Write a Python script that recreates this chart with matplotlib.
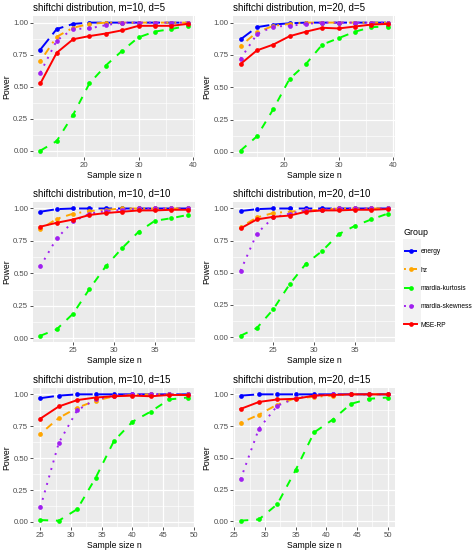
import matplotlib

matplotlib.use("Agg")
import matplotlib.pyplot as plt
import numpy as np
from matplotlib.lines import Line2D
from matplotlib.patches import Rectangle
from matplotlib.ticker import MultipleLocator

plt.rcParams["font.family"] = ["Liberation Sans", "DejaVu Sans"]

groups = ["energy", "hz", "mardia-kurtosis", "mardia-skewness", "MSE-RP"]
colors = {
    "energy": "#0000FF",
    "hz": "#FFA500",
    "mardia-kurtosis": "#00FF00",
    "mardia-skewness": "#A020F0",
    "MSE-RP": "#FF0000",
}
styles = {
    "energy": (0, (7, 3)),
    "hz": (0, (1, 3, 4, 3)),
    "mardia-kurtosis": (0, (4, 4)),
    "mardia-skewness": (0, (1, 3)),
    "MSE-RP": "-",
}

n_d5 = [12, 15, 18, 21, 24, 27, 30, 33, 36, 39]
n_d10 = [21, 23, 25, 27, 29, 31, 33, 35, 37, 39]
n_d15_m10 = [25, 28, 31, 34, 37, 40, 43, 46, 49]
n_d15_m20 = [26, 29, 32, 35, 38, 41, 44, 47, 50]

# m=10, d=5
p1 = {
    "energy": [0.79, 0.95, 0.99, 1.0, 1.0, 1.0, 1.0, 1.0, 1.0, 1.0],
    "hz": [0.70, 0.89, 0.96, 0.99, 1.0, 1.0, 1.0, 1.0, 1.0, 1.0],
    "mardia-kurtosis": [0.0, 0.075, 0.28, 0.525, 0.665, 0.78, 0.885, 0.93, 0.95, 0.975],
    "mardia-skewness": [0.61, 0.86, 0.95, 0.955, 0.98, 1.0, 1.0, 1.0, 1.0, 1.0],
    "MSE-RP": [0.525, 0.765, 0.87, 0.895, 0.915, 0.94, 0.975, 0.975, 0.975, 0.99],
}
# m=20, d=5
p2 = {
    "energy": [0.87, 0.965, 0.985, 0.995, 1.0, 1.0, 1.0, 1.0, 1.0, 1.0],
    "hz": [0.82, 0.925, 0.975, 0.99, 1.0, 1.0, 1.0, 1.0, 1.0, 1.0],
    "mardia-kurtosis": [0.01, 0.12, 0.33, 0.565, 0.68, 0.83, 0.88, 0.93, 0.965, 0.97],
    "mardia-skewness": [0.72, 0.91, 0.97, 0.975, 0.99, 1.0, 1.0, 1.0, 1.0, 1.0],
    "MSE-RP": [0.68, 0.785, 0.83, 0.895, 0.93, 0.96, 0.955, 0.97, 0.985, 0.99],
}
# m=10, d=10
p3 = {
    "energy": [0.975, 0.995, 1.0, 1.0, 1.0, 1.0, 1.0, 1.0, 1.0, 1.0],
    "hz": [0.84, 0.92, 0.96, 0.98, 0.99, 1.0, 1.0, 1.0, 1.0, 1.0],
    "mardia-kurtosis": [0.02, 0.07, 0.19, 0.38, 0.555, 0.695, 0.82, 0.905, 0.925, 0.95],
    "mardia-skewness": [0.555, 0.77, 0.90, 0.96, 0.98, 0.99, 1.0, 1.0, 1.0, 1.0],
    "MSE-RP": [0.86, 0.89, 0.915, 0.95, 0.965, 0.975, 0.985, 0.985, 0.99, 0.99],
}
# m=20, d=10
p4 = {
    "energy": [0.98, 0.995, 1.0, 1.0, 1.0, 1.0, 1.0, 1.0, 1.0, 1.0],
    "hz": [0.855, 0.93, 0.965, 0.975, 0.985, 0.99, 1.0, 1.0, 1.0, 1.0],
    "mardia-kurtosis": [0.01, 0.07, 0.215, 0.41, 0.57, 0.67, 0.80, 0.865, 0.915, 0.96],
    "mardia-skewness": [0.515, 0.805, 0.93, 0.96, 0.985, 0.99, 1.0, 1.0, 1.0, 1.0],
    "MSE-RP": [0.845, 0.915, 0.935, 0.945, 0.975, 0.985, 0.985, 0.99, 0.99, 0.995],
}
# m=10, d=15
p5 = {
    "energy": [0.97, 0.99, 1.0, 1.0, 1.0, 1.0, 1.0, 1.0, 1.0],
    "hz": [0.69, 0.815, 0.895, 0.95, 0.985, 0.995, 1.0, 1.0, 1.0],
    "mardia-kurtosis": [0.015, 0.01, 0.10, 0.345, 0.635, 0.785, 0.865, 0.96, 0.975],
    "mardia-skewness": [0.115, 0.62, 0.875, 0.96, 0.99, 1.0, 1.0, 1.0, 1.0],
    "MSE-RP": [0.81, 0.905, 0.955, 0.975, 0.985, 0.99, 0.985, 0.995, 0.995],
}
# m=20, d=15
p6 = {
    "energy": [0.99, 1.0, 1.0, 1.0, 1.0, 1.0, 1.0, 1.0, 1.0],
    "hz": [0.775, 0.84, 0.92, 0.97, 0.98, 0.99, 1.0, 1.0, 1.0],
    "mardia-kurtosis": [0.005, 0.015, 0.135, 0.405, 0.70, 0.80, 0.925, 0.965, 0.975],
    "mardia-skewness": [0.33, 0.73, 0.91, 0.97, 0.99, 1.0, 1.0, 1.0, 1.0],
    "MSE-RP": [0.885, 0.94, 0.96, 0.965, 0.99, 0.995, 1.0, 1.0, 1.0],
}

panels = [
    ("shiftchi distribution, m=10, d=5", n_d5, p1, 10, 5),
    ("shiftchi distribution, m=20, d=5", n_d5, p2, 10, 5),
    ("shiftchi distribution, m=10, d=10", n_d10, p3, 5, 2.5),
    ("shiftchi distribution, m=20, d=10", n_d10, p4, 5, 2.5),
    ("shiftchi distribution, m=10, d=15", n_d15_m10, p5, 5, 2.5),
    ("shiftchi distribution, m=20, d=15", n_d15_m20, p6, 5, 2.5),
]

# axes boxes in figure fractions (left, bottom, width, height)
col_left = [0.070, 0.494]
row_box = [(0.7145, 0.256), (0.378, 0.2545), (0.0418, 0.2527)]

fig = plt.figure(figsize=(4.72, 5.5), dpi=100)
grey_text = "#4D4D4D"

for i, (title, n, vals, major, minor) in enumerate(panels):
    r, c = divmod(i, 2)
    bottom, height = row_box[r]
    ax = fig.add_axes([col_left[c], bottom, 0.343, height])
    ax.set_facecolor("#EBEBEB")
    for g in groups:
        ax.plot(
            n, vals[g], color=colors[g], linestyle=styles[g], linewidth=1.4,
            marker="o", markersize=3.4, markeredgewidth=0,
        )
    allv = np.concatenate([vals[g] for g in groups])
    lo, hi = allv.min(), allv.max()
    pad = (hi - lo) * 0.05
    ax.set_ylim(lo - pad, hi + pad)
    xpad = (max(n) - min(n)) * 0.05
    ax.set_xlim(min(n) - xpad, max(n) + xpad)
    ax.xaxis.set_major_locator(MultipleLocator(major))
    ax.xaxis.set_minor_locator(MultipleLocator(minor))
    ax.yaxis.set_major_locator(MultipleLocator(0.25))
    ax.yaxis.set_minor_locator(MultipleLocator(0.125))
    ax.yaxis.set_major_formatter(lambda v, p: f"{v:.2f}")
    ax.grid(which="major", color="white", linewidth=0.9)
    ax.grid(which="minor", color="white", linewidth=0.45)
    ax.set_axisbelow(True)
    for s in ax.spines.values():
        s.set_visible(False)
    ax.tick_params(which="major", length=2, width=0.6, color="#333333",
                   labelsize=5.6, labelcolor=grey_text, pad=1.5)
    ax.tick_params(which="minor", length=0)
    ax.set_title(title, fontsize=7, loc="left", pad=4, color="black")
    ax.set_xlabel("Sample size n", fontsize=6.2, labelpad=1.5)
    ax.set_ylabel("Power", fontsize=6.2, labelpad=1.5)

# legend
handles = [
    Line2D([], [], color=colors[g], linestyle=styles[g], linewidth=1.4,
           marker="o", markersize=3.4, markeredgewidth=0)
    for g in groups
]
fig.patches.append(Rectangle((403 / 472, 1 - 324 / 550), 18 / 472, 85 / 550,
                             transform=fig.transFigure, facecolor="#F2F2F2",
                             edgecolor="none", zorder=0))
leg = fig.legend(
    handles, groups, loc="upper left", bbox_to_anchor=(398 / 472, 1 - 222 / 550),
    frameon=False, fontsize=4.8, title="Group", title_fontsize=6.4,
    handlelength=2.0, handletextpad=0.5, labelspacing=1.7, alignment="left",
)

fig.savefig("out.png", dpi=100)
